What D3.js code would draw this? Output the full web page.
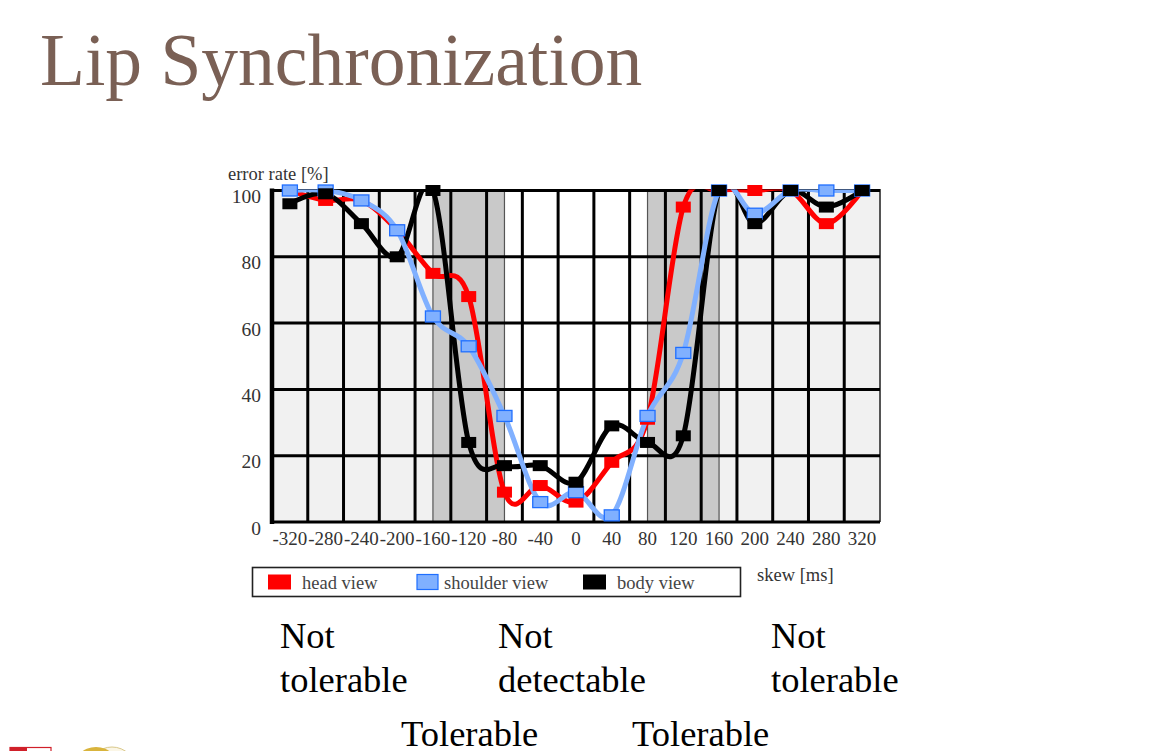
<!DOCTYPE html>
<html>
<head>
<meta charset="utf-8">
<script src="https://cdn.jsdelivr.net/npm/d3@7/dist/d3.min.js"></script>
<style>
  html, body { margin: 0; padding: 0; background: #fff; }
  svg { display: block; }
  text { font-family: "Liberation Serif", "Times New Roman", serif; }
</style>
</head>
<body>
<svg id="chart" width="1153" height="751"></svg>
<script>
// ---------- data ----------
const skew = [-320,-280,-240,-200,-160,-120,-80,-40,0,40,80,120,160,200,240,280,320];
const headView     = [100, 97, 97, 88, 75, 68,  9, 11,  6, 18, 31, 95,100,100,100, 90,100];
const shoulderView = [100,100, 97, 88, 62, 53, 32,  6,  9,  2, 32, 51,100, 93,100,100,100];
const bodyView     = [ 96, 99, 90, 80,100, 24, 17, 17, 12, 29, 24, 26,100, 90,100, 95,100];
const yTicks = [0, 20, 40, 60, 80, 100];
const seriesNames = ["head view", "shoulder view", "body view"];
const tolerableBands = [[-160, -80], [80, 160]];
const notDetectableBand = [-80, 80];
const regionLabels = [
  {lines: ["Not", "tolerable"], x: 280},
  {lines: ["Not", "detectable"], x: 498},
  {lines: ["Not", "tolerable"], x: 771}
];
const tolerableLabels = [{text: "Tolerable", x: 401}, {text: "Tolerable", x: 632}];

// ---------- layout ----------
const svg = d3.select("#chart");
const L = 272, R = 880, T = 190.5, B = 522;

const x = d3.scaleBand().domain(skew).range([L, R]).padding(0);
const bw = x.bandwidth();
const cx = v => x(v) + bw / 2;
const y = d3.scaleLinear().domain([0, 100]).range([B, T]);

// title
svg.append("text")
  .attr("x", 40).attr("y", 85)
  .attr("font-size", 73.5)
  .attr("fill", "#7a6055")
  .text("Lip Synchronization");

// backgrounds
svg.append("rect").attr("x", L).attr("y", T).attr("width", R - L).attr("height", B - T).attr("fill", "#f1f1f1");
svg.append("rect")
  .attr("x", cx(notDetectableBand[0])).attr("y", T)
  .attr("width", cx(notDetectableBand[1]) - cx(notDetectableBand[0]))
  .attr("height", B - T).attr("fill", "#ffffff");
svg.selectAll("rect.tol").data(tolerableBands).enter().append("rect")
  .attr("class", "tol")
  .attr("x", d => cx(d[0])).attr("y", T)
  .attr("width", d => cx(d[1]) - cx(d[0]))
  .attr("height", B - T).attr("fill", "#c9c9c9");
svg.selectAll("line.tolEdge").data(tolerableBands.flat()).enter().append("line")
  .attr("class", "tolEdge")
  .attr("x1", d => cx(d)).attr("x2", d => cx(d))
  .attr("y1", T).attr("y2", B)
  .attr("stroke", "#555").attr("stroke-width", 1.2);

// gridlines
svg.selectAll("line.vgrid").data(skew.slice(1)).enter().append("line")
  .attr("class", "vgrid")
  .attr("x1", d => x(d)).attr("x2", d => x(d))
  .attr("y1", T - 1.5).attr("y2", B)
  .attr("stroke", "#000").attr("stroke-width", 3);
svg.append("line").attr("x1", R).attr("x2", R).attr("y1", T - 1.5).attr("y2", B)
  .attr("stroke", "#555").attr("stroke-width", 2);
svg.selectAll("line.hgrid").data(yTicks).enter().append("line")
  .attr("class", "hgrid")
  .attr("x1", L).attr("x2", R)
  .attr("y1", d => y(d)).attr("y2", d => y(d))
  .attr("stroke", "#000").attr("stroke-width", 3);
svg.append("line").attr("x1", L).attr("x2", L).attr("y1", T - 2).attr("y2", B + 2)
  .attr("stroke", "#000").attr("stroke-width", 4.5);

// axes
const gx = svg.append("g").attr("transform", `translate(0,${B + 9})`)
  .call(d3.axisBottom(x).tickSize(0).tickPadding(0));
gx.select(".domain").remove();
gx.selectAll("text").attr("font-size", 19).attr("fill", "#333")
  .attr("font-family", "Liberation Serif, serif").attr("dy", "0.71em");

const gy = svg.append("g").attr("transform", `translate(${L - 11},0)`)
  .call(d3.axisLeft(y).tickValues(yTicks).tickSize(0).tickPadding(0));
gy.select(".domain").remove();
gy.selectAll("text").attr("font-size", 19.5).attr("fill", "#333")
  .attr("font-family", "Liberation Serif, serif").attr("dy", "0.62em");

svg.append("text").attr("x", 228).attr("y", 180).attr("font-size", 18.5).attr("fill", "#333")
  .text("error rate [%]");
svg.append("text").attr("x", 757).attr("y", 581).attr("font-size", 18.5).attr("fill", "#333")
  .text("skew [ms]");

// lines
svg.append("clipPath").attr("id", "plotClip").append("rect")
  .attr("x", L).attr("y", T - 1).attr("width", R - L).attr("height", B - T + 1);

const lineGen = vals => d3.line()
  .x((d, i) => cx(skew[i]))
  .y(d => y(d))
  .curve(d3.curveCardinal.tension(0))(vals);

const series = [
  {name: seriesNames[0], vals: headView, line: "#ff0000", fill: "#ff0000", stroke: "none"},
  {name: seriesNames[1], vals: shoulderView, line: "#80b0ff", fill: "#80b0ff", stroke: "#1f6fff"},
  {name: seriesNames[2], vals: bodyView, line: "#000000", fill: "#000000", stroke: "none"}
];
const lineOrder = [0, 2, 1];
const lg = svg.append("g").attr("clip-path", "url(#plotClip)");
lineOrder.forEach(k => {
  const s = series[k];
  lg.append("path").attr("d", lineGen(s.vals))
    .attr("fill", "none").attr("stroke", s.line).attr("stroke-width", 5)
    .attr("stroke-linejoin", "round");
});
const mw = 15, mh = 11;
[0, 1, 2].forEach(k => {
  const s = series[k];
  svg.append("g").selectAll("rect").data(s.vals).enter().append("rect")
    .attr("x", (d, i) => cx(skew[i]) - mw / 2)
    .attr("y", d => y(d) - mh / 2)
    .attr("width", mw).attr("height", mh)
    .attr("fill", s.fill)
    .attr("stroke", s.stroke).attr("stroke-width", 1.3);
});

// legend
svg.append("rect").attr("x", 252.5).attr("y", 567.5).attr("width", 488).attr("height", 29)
  .attr("fill", "#fff").attr("stroke", "#222").attr("stroke-width", 1.6);
const legendX = [268, 417, 583];
const legendTX = [302, 444, 617];
series.forEach((s, k) => {
  svg.append("rect").attr("x", legendX[k]).attr("y", 574.5).attr("width", k === 1 ? 21 : 23).attr("height", 15)
    .attr("fill", s.fill).attr("stroke", s.stroke).attr("stroke-width", 1.2);
  svg.append("text").attr("x", legendTX[k]).attr("y", 589).attr("font-size", 18.5).attr("fill", "#444")
    .text(s.name);
});

// region labels
regionLabels.forEach(r => {
  r.lines.forEach((t, j) => {
    svg.append("text").attr("x", r.x).attr("y", 648 + j * 44).attr("font-size", 36.5)
      .attr("fill", "#000").text(t);
  });
});
tolerableLabels.forEach(r => {
  svg.append("text").attr("x", r.x).attr("y", 746).attr("font-size", 36.5)
    .attr("fill", "#000").text(r.text);
});

// logo fragments (bottom-left)
svg.append("rect").attr("x", 10).attr("y", 747.5).attr("width", 41).attr("height", 10)
  .attr("fill", "#fff").attr("stroke", "#d0202a").attr("stroke-width", 1.2);
svg.append("rect").attr("x", 10).attr("y", 747).attr("width", 17).attr("height", 10).attr("fill", "#d0202a");
svg.append("circle").attr("cx", 112).attr("cy", 771).attr("r", 24)
  .attr("fill", "#fbf6e6").attr("stroke", "#d9c88a").attr("stroke-width", 1);
svg.append("circle").attr("cx", 96).attr("cy", 771).attr("r", 24).attr("fill", "#d9b43c");
</script>
</body>
</html>
